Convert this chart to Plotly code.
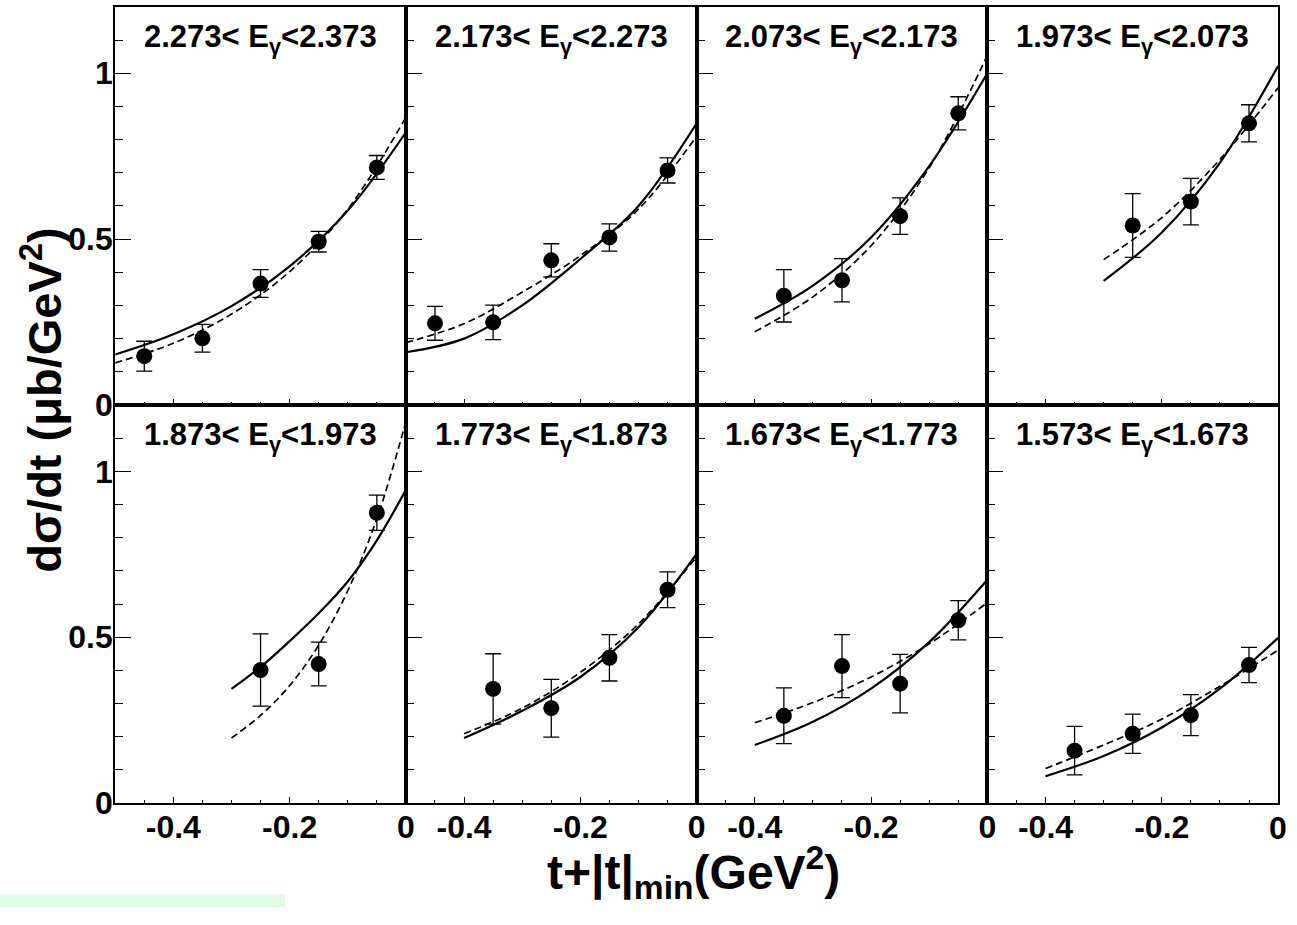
import plotly.graph_objects as go

# Photon energy bins (GeV), one panel each, ordered left-to-right, top-to-bottom
e_low = [2.273, 2.173, 2.073, 1.973, 1.873, 1.773, 1.673, 1.573]
e_high = [2.373, 2.273, 2.173, 2.073, 1.973, 1.873, 1.773, 1.673]

# Measured dsigma/dt (ub/GeV^2) versus t+|t|min (GeV^2)
t_data = [
    [-0.45, -0.35, -0.25, -0.15, -0.05],
    [-0.45, -0.35, -0.25, -0.15, -0.05],
    [-0.35, -0.25, -0.15, -0.05],
    [-0.25, -0.15, -0.05],
    [-0.25, -0.15, -0.05],
    [-0.35, -0.25, -0.15, -0.05],
    [-0.35, -0.25, -0.15, -0.05],
    [-0.35, -0.25, -0.15, -0.05],
]
dsig = [
    [0.147, 0.201, 0.366, 0.492, 0.716],
    [0.246, 0.249, 0.436, 0.505, 0.707],
    [0.329, 0.376, 0.569, 0.879],
    [0.541, 0.613, 0.849],
    [0.401, 0.419, 0.875],
    [0.344, 0.286, 0.438, 0.643],
    [0.263, 0.413, 0.360, 0.551],
    [0.158, 0.209, 0.265, 0.416],
]
dsig_err = [
    [0.045, 0.042, 0.042, 0.031, 0.036],
    [0.051, 0.052, 0.050, 0.041, 0.038],
    [0.079, 0.065, 0.055, 0.050],
    [0.096, 0.070, 0.056],
    [0.109, 0.066, 0.053],
    [0.106, 0.087, 0.070, 0.054],
    [0.084, 0.095, 0.088, 0.059],
    [0.073, 0.059, 0.062, 0.053],
]

# Model curves (solid and dashed) sampled along t+|t|min
t_model = [
    [-0.5, -0.4, -0.3, -0.2, -0.1, 0.0],
    [-0.5, -0.4, -0.3, -0.2, -0.1, 0.0],
    [-0.4, -0.3, -0.2, -0.1, 0.0],
    [-0.3, -0.2, -0.1, 0.0],
    [-0.3, -0.25, -0.2, -0.15, -0.1, -0.05, 0.0],
    [-0.4, -0.3, -0.2, -0.1, 0.0],
    [-0.4, -0.3, -0.2, -0.1, 0.0],
    [-0.4, -0.3, -0.2, -0.1, 0.0],
]
model_solid = [
    [0.152, 0.213, 0.298, 0.418, 0.586, 0.822],
    [0.159, 0.200, 0.300, 0.440, 0.600, 0.849],
    [0.260, 0.360, 0.505, 0.720, 1.000],
    [0.374, 0.520, 0.730, 1.022],
    [0.344, 0.410, 0.488, 0.572, 0.668, 0.792, 0.944],
    [0.196, 0.278, 0.380, 0.530, 0.751],
    [0.175, 0.245, 0.345, 0.485, 0.673],
    [0.081, 0.142, 0.228, 0.345, 0.498],
]
model_dashed = [
    [0.127, 0.186, 0.274, 0.402, 0.590, 0.867],
    [0.188, 0.245, 0.340, 0.450, 0.590, 0.810],
    [0.221, 0.326, 0.480, 0.715, 1.054],
    [0.438, 0.565, 0.740, 0.956],
    [0.196, 0.264, 0.354, 0.476, 0.640, 0.857, 1.150],
    [0.209, 0.286, 0.394, 0.540, 0.742],
    [0.242, 0.303, 0.380, 0.480, 0.604],
    [0.104, 0.175, 0.253, 0.352, 0.461],
]

x_tickvals = [-0.4, -0.2, 0.0]
x_ticktext = ["-0.4", "-0.2", "0"]
y_tickvals = [0.0, 0.5, 1.0]
y_ticktext = ["0", "0.5", "1"]

W, H = 1297, 925
FONT = "Liberation Sans"

# Pixel geometry of the 2x4 grid
left, right = 116.0, 1287.0
top, mid, bottom = 7.0, 413.0, 819.0
pw = (right - left) / 4.0

fig = go.Figure()

layout = dict(
    width=W, height=H,
    margin=dict(l=0, r=0, t=0, b=0),
    paper_bgcolor="white", plot_bgcolor="white",
    showlegend=False,
    font=dict(family=FONT, color="black"),
)

annotations = []
for i in range(8):
    row, col = divmod(i, 4)
    sfx = "" if i == 0 else str(i + 1)
    xref, yref = "x" + sfx, "y" + sfx

    x0 = left + col * pw
    x1 = x0 + pw
    if row == 0:
        ya, yb = mid, top
    else:
        ya, yb = bottom, mid
    xdom = [x0 / W, x1 / W]
    ydom = [(H - ya) / H, (H - yb) / H]

    # the last panel's "0" sits on the page edge; it is placed separately below
    ttext = list(x_ticktext)
    if i == 7:
        ttext[-1] = ""

    layout["xaxis" + sfx] = dict(
        domain=xdom, range=[-0.5, 0.0], anchor=yref,
        showgrid=False, zeroline=False, fixedrange=True,
        showline=True, linecolor="black", linewidth=2, mirror=True,
        tickmode="array", tickvals=x_tickvals, ticktext=ttext,
        ticks="inside", ticklen=6, tickwidth=1, tickcolor="black",
        minor=dict(tickmode="linear", tick0=0.0, dtick=0.05, ticks="inside",
                   ticklen=3, tickwidth=1, tickcolor="black"),
        showticklabels=(row == 1),
        tickfont=dict(family=FONT, size=32, weight="bold", color="black"),
        ticklabelstandoff=-5,
    )
    layout["yaxis" + sfx] = dict(
        domain=ydom, range=[0.0, 1.2], anchor=xref,
        showgrid=False, zeroline=False, fixedrange=True,
        showline=True, linecolor="black", linewidth=2, mirror=True,
        tickmode="array", tickvals=y_tickvals, ticktext=y_ticktext,
        ticks="inside", ticklen=16, tickwidth=1, tickcolor="black",
        minor=dict(tickmode="linear", tick0=0.0, dtick=0.1, ticks="inside",
                   ticklen=8, tickwidth=1, tickcolor="black"),
        showticklabels=(col == 0),
        tickfont=dict(family=FONT, size=32, weight="bold", color="black"),
        ticklabelstandoff=-6,
    )

    # model curves
    fig.add_trace(go.Scatter(
        x=t_model[i], y=model_solid[i], mode="lines",
        line=dict(color="black", width=2.2, shape="spline", smoothing=1.0),
        xaxis=xref, yaxis=yref, hoverinfo="skip",
    ))
    fig.add_trace(go.Scatter(
        x=t_model[i], y=model_dashed[i], mode="lines",
        line=dict(color="black", width=1.7, dash="7px,4px", shape="spline", smoothing=1.0),
        xaxis=xref, yaxis=yref, hoverinfo="skip",
    ))
    # data points with error bars
    fig.add_trace(go.Scatter(
        x=t_data[i], y=dsig[i], mode="markers",
        marker=dict(symbol="circle", size=16, color="black"),
        error_y=dict(type="data", array=dsig_err[i], visible=True,
                     color="black", thickness=1.3, width=8),
        xaxis=xref, yaxis=yref, cliponaxis=False,
    ))

    # energy-bin label
    label = f"{e_low[i]:.3f}< E<sub>γ</sub><{e_high[i]:.3f}"
    annotations.append(dict(
        text=label, xref="paper", yref="paper",
        x=(x0 + x1) / 2.0 / W, y=(H - (yb + 33)) / H,
        xanchor="center", yanchor="middle", showarrow=False,
        font=dict(family=FONT, size=31, weight="bold", color="black"),
    ))

# "0" at the right end of the last panel, kept inside the page
annotations.append(dict(
    text=x_ticktext[-1], xref="paper", yref="paper",
    x=1.0, y=(H - 844.0) / H, xanchor="right", yanchor="middle",
    showarrow=False, borderpad=0,
    font=dict(family=FONT, size=32, weight="bold", color="black"),
))

# axis titles
annotations.append(dict(
    text="dσ/dt (μb/GeV<sup>2</sup>)", xref="paper", yref="paper",
    x=42.0 / W, y=(H - 408.0) / H, xanchor="center", yanchor="middle",
    textangle=-90, showarrow=False,
    font=dict(family=FONT, size=47, weight="bold", color="black"),
))
annotations.append(dict(
    text="t+|t|<sub>min</sub>(GeV<sup>2</sup>)", xref="paper", yref="paper",
    x=698.0 / W, y=0.0, xanchor="center", yanchor="bottom",
    showarrow=False, borderpad=0,
    font=dict(family=FONT, size=48, weight="bold", color="black"),
))
layout["annotations"] = annotations

# pale strip along the lower-left edge
layout["shapes"] = [dict(
    type="rect", xref="paper", yref="paper",
    x0=0.0, x1=287.0 / W, y0=0.0, y1=13.0 / H,
    fillcolor="#e1fde1", line=dict(width=0), layer="below",
)]

fig.update_layout(**layout)

# keep the page exactly the size of the figure
page_css = (
    "document.documentElement.style.margin='0';"
    "document.documentElement.style.overflow='hidden';"
    "document.body.style.margin='0';"
    "document.body.style.overflow='hidden';"
    "var gd=document.getElementById('{plot_id}');"
    "gd.style.overflow='hidden';"
)
fig.write_html("out.html", config={"staticPlot": True, "displayModeBar": False},
               post_script=page_css)
